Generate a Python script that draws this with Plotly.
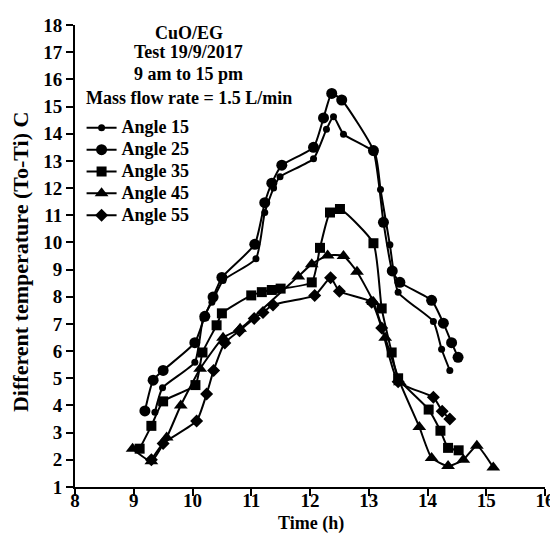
import plotly.graph_objects as go

# ---- data ----
x_a15 = [9.36, 9.49, 10.04, 10.18, 10.33, 10.52, 11.08, 11.23, 11.38, 11.49, 12.06, 12.28, 12.40, 12.57, 13.10, 13.20, 13.36, 13.50, 14.10, 14.24, 14.38]
y_a15 = [3.75, 4.65, 5.59, 7.20, 7.80, 8.60, 9.40, 11.10, 12.00, 12.42, 13.08, 14.16, 14.62, 13.98, 13.30, 11.95, 9.91, 8.17, 7.09, 6.07, 5.29]

x_a25 = [9.19, 9.33, 9.50, 10.04, 10.21, 10.35, 10.50, 11.06, 11.23, 11.35, 11.52, 12.06, 12.23, 12.37, 12.54, 13.08, 13.25, 13.40, 13.53, 14.07, 14.27, 14.41, 14.52]
y_a25 = [3.80, 4.93, 5.29, 6.31, 7.28, 7.99, 8.71, 9.93, 11.46, 12.18, 12.84, 13.50, 14.58, 15.48, 15.24, 13.38, 10.74, 8.95, 8.53, 7.87, 7.03, 6.31, 5.77]

x_a35 = [9.10, 9.30, 9.50, 10.05, 10.17, 10.41, 10.50, 11.00, 11.18, 11.35, 11.50, 12.03, 12.17, 12.34, 12.51, 13.08, 13.22, 13.39, 13.50, 14.02, 14.22, 14.35, 14.53]
y_a35 = [2.41, 3.25, 4.15, 4.75, 5.95, 6.95, 7.39, 8.05, 8.17, 8.25, 8.30, 8.53, 9.80, 11.10, 11.23, 9.97, 7.57, 5.95, 5.00, 3.85, 3.07, 2.44, 2.35]

x_a45 = [8.98, 9.30, 9.56, 9.80, 10.13, 10.52, 10.81, 11.80, 12.03, 12.30, 12.57, 12.80, 13.08, 13.28, 13.53, 13.86, 14.07, 14.35, 14.61, 14.84, 15.12]
y_a45 = [2.41, 1.95, 2.82, 4.00, 5.35, 6.49, 6.82, 8.75, 9.20, 9.52, 9.50, 8.92, 7.81, 6.49, 4.85, 3.21, 2.07, 1.77, 2.00, 2.52, 1.72]

x_a55 = [9.30, 9.50, 10.07, 10.24, 10.36, 10.55, 10.80, 11.05, 11.20, 11.37, 12.08, 12.35, 12.50, 13.05, 13.22, 13.50, 14.10, 14.25, 14.38]
y_a55 = [2.00, 2.60, 3.43, 4.42, 5.29, 6.30, 6.75, 7.20, 7.42, 7.70, 8.05, 8.70, 8.20, 7.80, 6.85, 4.87, 4.30, 3.79, 3.50]

names = ["Angle 15", "Angle 25", "Angle 35", "Angle 45", "Angle 55"]
xs = [x_a15, x_a25, x_a35, x_a45, x_a55]
ys = [y_a15, y_a25, y_a35, y_a45, y_a55]
symbols = ["circle", "circle", "square", "triangle-up", "diamond"]
sizes = [7, 11, 10, 12, 10]

x_ticks = [8, 9, 10, 11, 12, 13, 14, 15, 16]
y_ticks = list(range(1, 19))

info_lines = ["CuO/EG", "Test 19/9/2017", "9 am to 15 pm", "Mass flow rate = 1.5 L/min"]
x_title = "Time (h)"
y_title = "Different temperature (To-Ti) C"

FONT = "Liberation Serif"
TXT = dict(family=FONT, size=18, color="black", weight="bold")

fig = go.Figure()
for n, x, y, s, sz in zip(names, xs, ys, symbols, sizes):
    fig.add_trace(go.Scatter(
        x=x, y=y, name='<span style="font-size:18px">' + n + '</span>',
        mode="lines+markers",
        line=dict(color="black", width=2, shape="spline", smoothing=0.5),
        marker=dict(symbol=s, size=sz, color="black"),
    ))

info_y = [0.982, 0.941, 0.894, 0.843]
for t, yy in zip(info_lines, info_y):
    fig.add_annotation(text=t, xref="paper", yref="paper", x=0.242, y=yy,
                       xanchor="center", yanchor="middle", showarrow=False, font=TXT)

fig.add_annotation(text=x_title, xref="paper", yref="paper", x=0.503, y=-0.079,
                   xanchor="center", yanchor="middle", showarrow=False, font=TXT)
fig.add_annotation(text=y_title, xref="paper", yref="paper", x=-0.117, y=0.487,
                   xanchor="center", yanchor="middle", textangle=-90, showarrow=False,
                   font=dict(family=FONT, size=22, color="black", weight="bold"))

fig.update_layout(
    width=558, height=548,
    margin=dict(l=67, r=21, t=7, b=69),
    paper_bgcolor="white", plot_bgcolor="white",
    font=dict(family=FONT, size=18, color="black"),
    legend=dict(x=0.014, y=0.812, xanchor="left", yanchor="top",
                bgcolor="rgba(0,0,0,0)", tracegroupgap=0,
                font=dict(family=FONT, size=14.5, color="black", weight="bold"),
                itemwidth=30),
    showlegend=True,
)
fig.update_xaxes(range=[8, 16], tickvals=x_ticks, ticktext=[str(v) for v in x_ticks],
                 showline=True, linecolor="black", linewidth=2, mirror=False,
                 ticks="outside", ticklen=7, tickwidth=2, tickcolor="black",
                 showgrid=False, zeroline=False, ticklabeloverflow="allow",
                 ticklabelstandoff=-12,
                 tickfont=dict(family=FONT, size=19, weight="bold"))
fig.update_yaxes(range=[1, 18], tickvals=y_ticks, ticktext=[str(v) for v in y_ticks],
                 showline=True, linecolor="black", linewidth=2, mirror=False,
                 ticks="outside", ticklen=7, tickwidth=2, tickcolor="black",
                 showgrid=False, zeroline=False, ticklabeloverflow="allow",
                 tickfont=dict(family=FONT, size=19, weight="bold"))

fig.write_html("out.html")
